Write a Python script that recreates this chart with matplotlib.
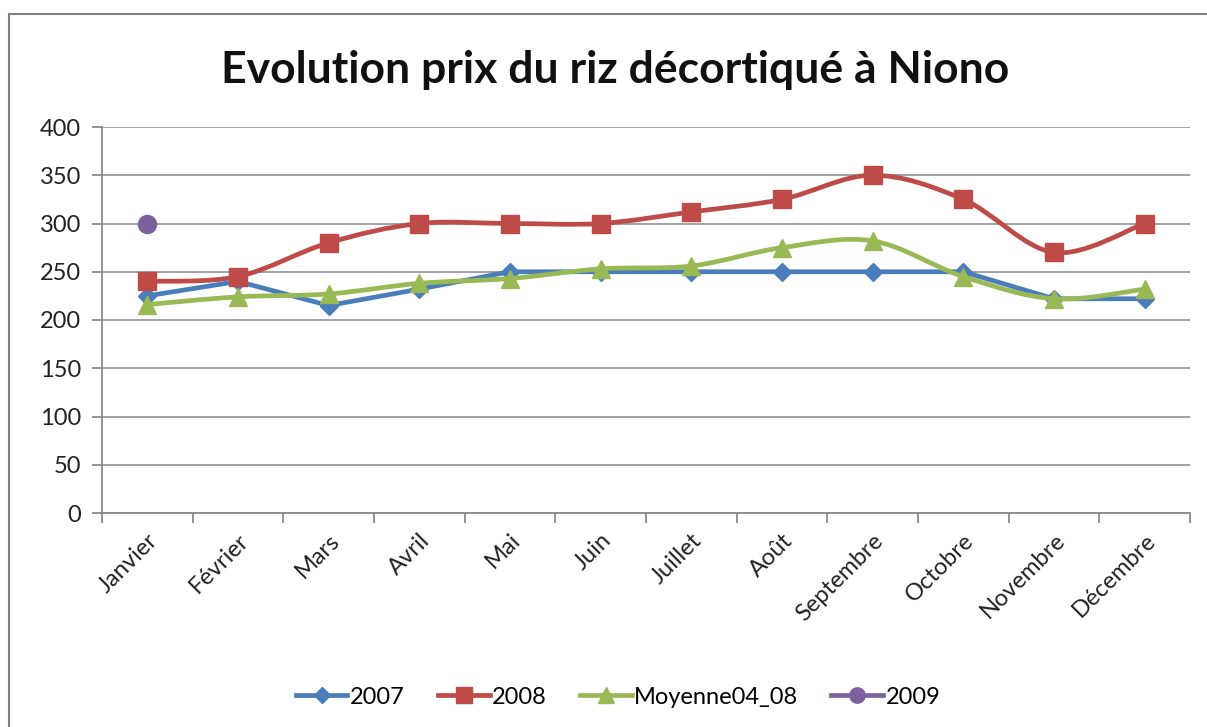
import numpy as np
import matplotlib
matplotlib.use("Agg")
import matplotlib.pyplot as plt
from matplotlib.path import Path
from matplotlib.patches import PathPatch
from matplotlib.lines import Line2D

plt.rcParams['font.family'] = ['Lato', 'DejaVu Sans']

months = ["Janvier", "Février", "Mars", "Avril", "Mai", "Juin", "Juillet",
          "Août", "Septembre", "Octobre", "Novembre", "Décembre"]
s2007 = [225, 240, 215, 232, 250, 250, 250, 250, 250, 250, 222, 222]
s2008 = [240, 245, 280, 300, 300, 300, 312, 325, 350, 325, 270, 300]
moyenne = [216, 224, 227, 238, 243, 253, 256, 275, 282, 245, 222, 232]
s2009 = [300]
series_names = ["2007", "2008", "Moyenne04_08", "2009"]
yticks = [0, 50, 100, 150, 200, 250, 300, 350, 400]

colors = ["#4A7EBB", "#BE4B48", "#98B954", "#7D60A0"]
markers = ["D", "s", "^", "o"]
msizes = [9, 13, 13, 13]
smoothed = [False, True, True, False]

fig = plt.figure(figsize=(12.07, 7.27), dpi=100)
ax = fig.add_axes([102/1207, 1-513/727, (1190-102)/1207, (513-127)/727])


def smooth_path(xs, ys):
    pts = np.column_stack([xs, ys]).astype(float)
    n = len(pts)
    verts = [pts[0]]
    codes = [Path.MOVETO]
    for i in range(n-1):
        p0 = pts[i-1] if i > 0 else pts[i]
        p1 = pts[i]
        p2 = pts[i+1]
        p3 = pts[i+2] if i+2 < n else pts[i+1]
        c1 = p1 + (p2 - p0) / 6.0
        c2 = p2 - (p3 - p1) / 6.0
        verts += [c1, c2, p2]
        codes += [Path.CURVE4]*3
    return Path(verts, codes)


x = np.arange(len(months))
all_series = [s2007, s2008, moyenne, s2009]
zorders = [3, 4, 5, 6]
for vals, c, m, ms, z, sm in zip(all_series, colors, markers, msizes, zorders, smoothed):
    xs = x[:len(vals)]
    if len(vals) > 1:
        if sm:
            patch = PathPatch(smooth_path(xs, vals), facecolor='none', edgecolor=c,
                              lw=3.4, zorder=z, capstyle='round', joinstyle='round')
            ax.add_patch(patch)
        else:
            ax.plot(xs, vals, color=c, lw=3.4, zorder=z, solid_joinstyle='round')
    ax.plot(xs, vals, linestyle='none', marker=m, ms=ms, color=c,
            markeredgecolor=c, zorder=z+0.5)

ax.set_xlim(-0.5, 11.5)
ax.set_ylim(0, 400)
ax.set_yticks(yticks)
ax.set_yticklabels([str(v) for v in yticks], fontsize=17, color='#222222')
ax.yaxis.grid(True, color='#9a9a9a', lw=1.3)
ax.set_axisbelow(True)

ax.set_xticks(x)
ax.set_xticklabels(months, rotation=45, ha='right', rotation_mode='anchor',
                   fontsize=17, color='#222222')
ax.set_xticks(np.arange(-0.5, 12, 1), minor=True)
ax.tick_params(axis='x', which='major', length=0, pad=12)
ax.tick_params(axis='x', which='minor', length=7, color='#8a8a8a', width=1.3)
ax.tick_params(axis='y', length=7, color='#8a8a8a', width=1.3, pad=8)

for s in ['top', 'right']:
    ax.spines[s].set_visible(False)
for s in ['left', 'bottom']:
    ax.spines[s].set_color('#8a8a8a')
    ax.spines[s].set_linewidth(1.3)

fig.text(615/1207, 1-70/727, "Evolution prix du riz décortiqué à Niono",
         ha='center', va='center', fontsize=32, fontweight='bold', color='#111111')

# chart border (left and top)
fig.add_artist(Line2D([9/1207, 9/1207], [0, 1-14/727], transform=fig.transFigure,
                      color='#808080', lw=1.5))
fig.add_artist(Line2D([9/1207, 1], [1-14/727, 1-14/727], transform=fig.transFigure,
                      color='#808080', lw=1.5))

handles = [Line2D([], [], color=c, marker=m, ms=ms*0.85, lw=3.4) for c, m, ms in zip(colors, markers, msizes)]
fig.legend(handles, series_names, loc='center', bbox_to_anchor=(618/1207, 1-697/727),
           ncol=4, frameon=False, fontsize=17, handlelength=2.2, columnspacing=1.4,
           handletextpad=0.1)

fig.savefig("out.png", dpi=100, facecolor='white')
